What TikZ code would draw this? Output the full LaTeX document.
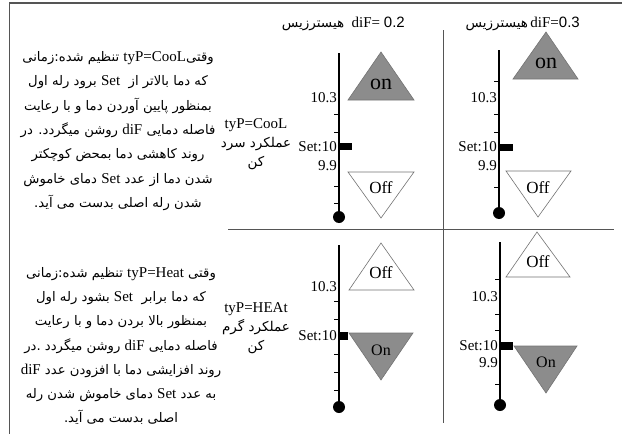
\documentclass[tikz,border=0pt]{standalone}
\usepackage{fontspec}
\setmainfont{Liberation Serif}
\newfontfamily\fafont[Script=Arabic]{DejaVu Sans}
\newfontfamily\numfont{Liberation Sans}
\TeXXeTstate=1
\newcommand\lat[1]{{\rmfamily\fontsize{15}{15}\selectfont #1}}
\definecolor{framegray}{RGB}{85,85,85}
\definecolor{ongray}{RGB}{140,140,140}
\definecolor{edgegray}{RGB}{115,115,115}
\tikzset{
  thermo/.style={line width=1.6pt},
  tickmark/.style={line width=0.8pt},
  onbox/.style={fill=ongray, draw=edgegray, line width=0.6pt},
  offbox/.style={fill=white, draw=edgegray, line width=0.6pt},
  val/.style={anchor=east, inner sep=0pt, font=\fontsize{15}{15}\selectfont},
  sw/.style={inner sep=0pt, font=\fontsize{17}{17}\selectfont},
  para/.style={inner sep=0pt, align=center, font=\fafont\fontsize{13.2}{24.3}\selectfont},
  modelbl/.style={inner sep=0pt, align=center, font=\fafont\fontsize{13.5}{19}\selectfont},
  hdr/.style={anchor=east, inner sep=0pt, font=\fontsize{15}{15}\selectfont},
}
\begin{document}
\begin{tikzpicture}[x=1pt, y=-1pt]
\useasboundingbox (0,0) rectangle (622,434);
% frame and dividers
\draw[framegray, line width=1.5pt] (622,3) -- (9.5,3) -- (9.5,434);
\draw[framegray, line width=0.7pt] (228,229) -- (614,229);
\draw[framegray, line width=0.7pt] (443,30) -- (443,423);

% notes on the left
\node[para] (coolnote) at (118,131) {%
  \beginR تنظیم شده:زمانی\endR\ \lat{tyP=CooL}\beginR وقتی\endR\\
  \beginR برود رله اول\endR\ \lat{Set}\ \ \beginR که دما بالاتر از\endR\\
  \beginR بمنظور پایین آوردن دما و با رعایت\endR\\
  \beginR روشن میگردد. در\endR\ \lat{diF}\ \beginR فاصله دمایی\endR\\
  \beginR روند کاهشی دما بمحض کوچکتر\endR\\
  \beginR دمای خاموش\endR\ \lat{Set}\ \beginR شدن دما از عدد\endR\\
  \beginR شدن رله اصلی بدست می آید.\endR};
\node[para] (heatnote) at (121,346) {%
  \beginR تنظیم شده:زمانی\endR\ \lat{tyP=Heat}\ \beginR وقتی\endR\\
  \beginR بشود رله اول\endR\ \lat{Set}\ \ \beginR که دما برابر\endR\\
  \beginR بمنظور بالا بردن دما و با رعایت\endR\\
  \beginR روشن میگردد .در\endR\ \lat{diF}\ \beginR فاصله دمایی\endR\\
  \lat{diF}\ \beginR روند افزایشی دما با افزودن عدد\endR\\
  \beginR دمای خاموش شدن رله\endR\ \lat{Set}\ \beginR به عدد\endR\\
  \beginR اصلی بدست می آید.\endR};

% mode labels
\node[modelbl] (coolmode) at (256,144) {\lat{tyP=CooL}\\ \beginR عملکرد سرد\endR\\ \beginR کن\endR};
\node[modelbl] (heatmode) at (256,328) {\lat{tyP=HEAt}\\ \beginR عملکرد گرم\endR\\ \beginR کن\endR};

% headers
\node[hdr] (hdrA) at (405,24) {{\fafont\fontsize{13.5}{15}\selectfont\beginR هیسترزیس\endR}\ \ diF= {\numfont 0.2}};
\node[hdr] (hdrB) at (580,24) {{\fafont\fontsize{13.5}{15}\selectfont\beginR هیسترزیس\endR}\,diF={\numfont 0.3}};

% cooling, diF 0.2
\draw[thermo] (339,53) -- (339,212);
\fill (339,217) circle (6);
\foreach \y in {114,132,186,203} \draw[tickmark] (334,\y) -- (339,\y);
\fill (339,143) rectangle (352,150);
\node[val] (a103) at (337,98) {10.3};
\node[val] (aset) at (337,147) {Set:10};
\node[val] (a99) at (337,166) {9.9};
\draw[onbox] (348,100) -- (381,52) -- (414,100) -- cycle;
\node[sw, font=\fontsize{22}{22}\selectfont] (aon) at (381,84) {on};
\draw[offbox] (348,172) -- (414,172) -- (381,218) -- cycle;
\node[sw] (aoff) at (381,188) {Off};

% cooling, diF 0.3
\draw[thermo] (499,50) -- (499,208);
\fill (499,213) circle (6);
\foreach \y in {81,114,132,187} \draw[tickmark] (494,\y) -- (499,\y);
\fill (499,144) rectangle (513,151);
\node[val] (b103) at (497,98) {10.3};
\node[val] (bset) at (497,147) {Set:10};
\node[val] (b99) at (497,166) {9.9};
\draw[onbox] (513,79) -- (546,32) -- (578,79) -- cycle;
\node[sw, font=\fontsize{22}{22}\selectfont] (bon) at (546,63) {on};
\draw[offbox] (506,171) -- (571,171) -- (538,217) -- cycle;
\node[sw] (boff) at (538,188) {Off};

% heating, diF 0.2
\draw[thermo] (339,245) -- (339,402);
\fill (339,407) circle (6);
\foreach \y in {301,319,354,372,390} \draw[tickmark] (334,\y) -- (339,\y);
\fill (339,332) rectangle (348,340);
\node[val] (c103) at (337,287) {10.3};
\node[val] (cset) at (337,336) {Set:10};
\draw[offbox] (349,290) -- (381,243) -- (414,290) -- cycle;
\node[sw] (coff) at (381,273) {Off};
\draw[onbox] (349,333) -- (413,333) -- (381,380) -- cycle;
\node[sw, font=\fontsize{16}{16}\selectfont] (con) at (381,350) {On};

% heating, diF 0.3
\draw[thermo] (500,242) -- (500,400);
\fill (500,405) circle (6);
\foreach \y in {279,314,330,384} \draw[tickmark] (495,\y) -- (500,\y);
\fill (500,342) rectangle (513,350);
\node[val] (d103) at (498,297) {10.3};
\node[val] (dset) at (498,346) {Set:10};
\node[val] (d99) at (498,363) {9.9};
\draw[offbox] (506,277) -- (537,232) -- (570,277) -- cycle;
\node[sw] (doff) at (538,262) {Off};
\draw[onbox] (514,346) -- (577,346) -- (546,393) -- cycle;
\node[sw, font=\fontsize{16}{16}\selectfont] (don) at (546,362) {On};
\end{tikzpicture}
\end{document}
